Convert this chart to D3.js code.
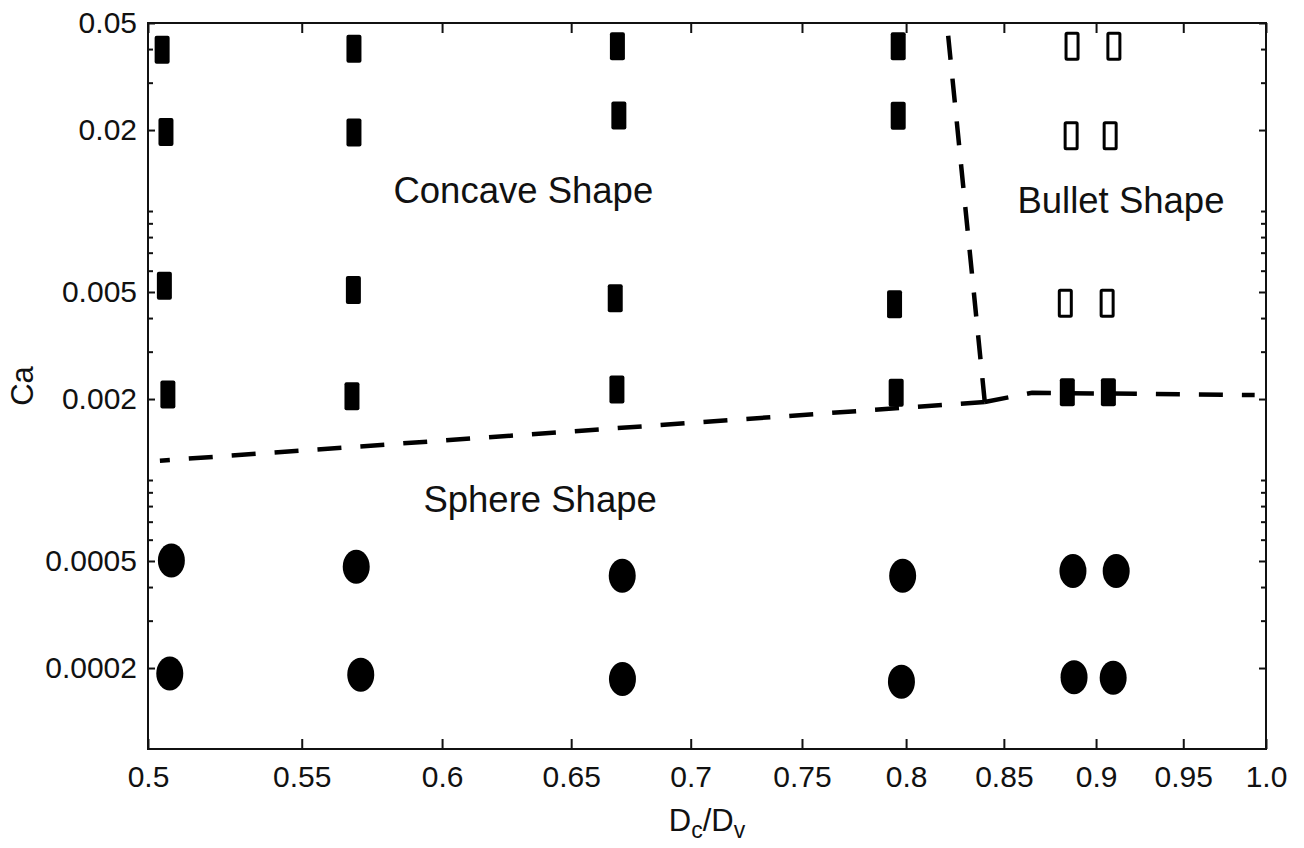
<!doctype html>
<html>
<head>
<meta charset="utf-8" />
<title>Ca vs Dc/Dv – shape regimes</title>
<script src="https://cdn.jsdelivr.net/npm/d3@7"></script>
<style>
  html,body{margin:0;background:#fff}
  svg{display:block;font-family:"Liberation Sans", Arial, Helvetica, sans-serif}
  .frame{fill:none;stroke:#111;stroke-width:2}
  .axis .domain{display:none}
  .axis .tick line{stroke:#111;stroke-width:2}
  .axis .tick text{font-size:30px;fill:#111}
  .boundary{fill:none;stroke:#000;stroke-width:4.5;stroke-dasharray:24 19}
  .region{font-size:36.5px;fill:#111}
  .label{font-size:31px;fill:#111}
</style>
</head>
<body>
<svg id="chart" width="1304" height="848"></svg>
<script>
// axis ticks (both axes are logarithmic)
const xTicks = [0.5, 0.55, 0.6, 0.65, 0.7, 0.75, 0.8, 0.85, 0.9, 0.95, 1.0];
const xTickLabels = ["0.5","0.55","0.6","0.65","0.7","0.75","0.8","0.85","0.9","0.95","1.0"];
const yTicks = [0.0002, 0.0005, 0.002, 0.005, 0.02, 0.05];
const yTickLabels = ["0.0002","0.0005","0.002","0.005","0.02","0.05"];
const yMinorTicks = [0.0003,0.0004,0.0006,0.0007,0.0008,0.0009,0.001,
                     0.003,0.004,0.006,0.007,0.008,0.009,0.01,0.03,0.04];

// observed shapes, [Dc/Dv, Ca]
const concavePts = [
  [0.5044,0.0398],[0.5056,0.01967],[0.5051,0.00528],[0.5062,0.00208],
  [0.5681,0.0401],[0.5681,0.01958],[0.5679,0.00509],[0.5674,0.00205],
  [0.6689,0.0410],[0.6695,0.02265],[0.6680,0.00474],[0.6687,0.00217],
  [0.7961,0.0410],[0.7961,0.02259],[0.7943,0.00450],[0.7951,0.00211],
  [0.8841,0.00212],[0.9069,0.00212]
];
const bulletPts = [
  [0.8867,0.0410],[0.9100,0.0410],[0.8862,0.01904],[0.9079,0.01904],
  [0.8830,0.00454],[0.9062,0.00454]
];
const spherePts = [
  [0.5073,0.000502],[0.5068,0.000191],[0.5689,0.000476],[0.5705,0.000189],
  [0.6709,0.000441],[0.6710,0.000182],[0.7983,0.000441],[0.7977,0.000178],
  [0.8872,0.000459],[0.8878,0.000185],[0.9113,0.000459],[0.9096,0.000184]
];

// dashed regime boundaries, all starting from the corner
const boundaryLeft  = [[0.84,0.00195],[0.5037,0.00118]];
const boundaryRight = [[0.84,0.00195],[0.865,0.00211],[0.993,0.00207]];
const boundaryUp    = [[0.84,0.00195],[0.8205,0.05]];

const regionLabels = [
  {text:"Concave Shape", x:0.631, y:0.01071},
  {text:"Sphere Shape",  x:0.6376, y:0.00076},
  {text:"Bullet Shape",  x:0.914, y:0.00983}
];

const svg = d3.select('#chart');
const L = 148, R = 1266, T = 23, B = 749;

const x = d3.scaleLog().domain([0.5, 1.0]).range([L, R]);
const y = d3.scaleLog().domain([0.0001, 0.05]).range([B, T]);

/* ticks on all four sides, pointing inward */
svg.append('g').attr('class','axis').attr('transform',`translate(0,${B})`)
  .call(d3.axisBottom(x).tickValues(xTicks)
    .tickFormat((d,i)=>xTickLabels[i]).tickSizeInner(-10).tickSizeOuter(0).tickPadding(17));
svg.append('g').attr('class','axis').attr('transform',`translate(0,${T})`)
  .call(d3.axisTop(x).tickValues(xTicks).tickFormat('').tickSizeInner(-10).tickSizeOuter(0));

svg.append('g').attr('class','axis').attr('transform',`translate(${L},0)`)
  .call(d3.axisLeft(y).tickValues(yTicks)
    .tickFormat((d,i)=>yTickLabels[i]).tickSizeInner(-7).tickSizeOuter(0).tickPadding(11));
svg.append('g').attr('class','axis').attr('transform',`translate(${L},0)`)
  .call(d3.axisLeft(y).tickValues(yMinorTicks).tickFormat('').tickSizeInner(-5).tickSizeOuter(0));
svg.append('g').attr('class','axis').attr('transform',`translate(${R},0)`)
  .call(d3.axisRight(y).tickValues(yTicks).tickFormat('').tickSizeInner(-7).tickSizeOuter(0));
svg.append('g').attr('class','axis').attr('transform',`translate(${R},0)`)
  .call(d3.axisRight(y).tickValues(yMinorTicks).tickFormat('').tickSizeInner(-5).tickSizeOuter(0));

svg.append('rect').attr('class','frame')
  .attr('x', L).attr('y', T).attr('width', R - L).attr('height', B - T);

/* boundaries */
const line = d3.line().x(d => x(d[0])).y(d => y(d[1]));
[boundaryLeft, boundaryRight, boundaryUp].forEach(b =>
  svg.append('path').attr('class','boundary').attr('d', line(b)));

/* markers */
const rw = 15, rh = 28;
svg.append('g').selectAll('rect').data(concavePts).join('rect')
  .attr('x', d => x(d[0]) - rw/2).attr('y', d => y(d[1]) - rh/2)
  .attr('width', rw).attr('height', rh).attr('rx', 2)
  .attr('fill', '#000');

svg.append('g').selectAll('rect').data(bulletPts).join('rect')
  .attr('x', d => x(d[0]) - (rw - 3)/2).attr('y', d => y(d[1]) - (rh - 2)/2)
  .attr('width', rw - 3).attr('height', rh - 2).attr('rx', 1)
  .attr('fill', '#fff').attr('stroke', '#000').attr('stroke-width', 3);

svg.append('g').selectAll('ellipse').data(spherePts).join('ellipse')
  .attr('cx', d => x(d[0])).attr('cy', d => y(d[1]))
  .attr('rx', 13.5).attr('ry', 17)
  .attr('fill', '#000');

/* region names */
svg.append('g').selectAll('text').data(regionLabels).join('text')
  .attr('class','region')
  .attr('x', d => x(d.x)).attr('y', d => y(d.y))
  .attr('text-anchor','middle')
  .text(d => d.text);

/* axis titles */
const xt = svg.append('text').attr('class','label')
  .attr('x', (L + R)/2).attr('y', 831).attr('text-anchor','middle');
xt.append('tspan').text('D');
xt.append('tspan').attr('dy', 7).style('font-size','23px').text('c');
xt.append('tspan').attr('dy', -7).text('/D');
xt.append('tspan').attr('dy', 7).style('font-size','23px').text('v');

svg.append('text').attr('class','label')
  .attr('transform', `translate(33,${(T + B)/2}) rotate(-90)`)
  .attr('text-anchor','middle')
  .text('Ca');
</script>
</body>
</html>
